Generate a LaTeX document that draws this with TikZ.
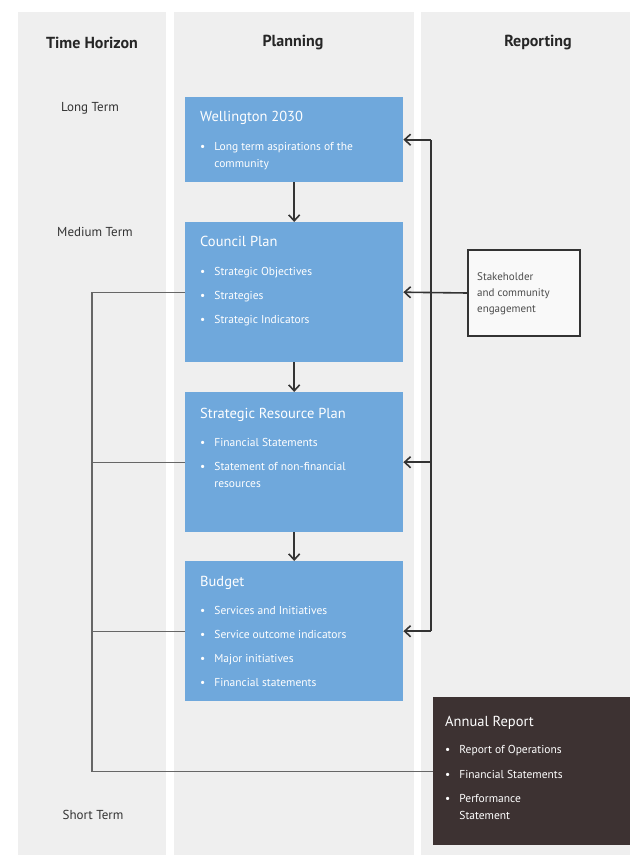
\documentclass[tikz,border=0pt]{standalone}
\usepackage{fontspec}
\setmainfont{PT Sans}
\usepackage{array}
\usetikzlibrary{arrows.meta}
\definecolor{colbg}{HTML}{EFEFEF}
\definecolor{planblue}{HTML}{6FA8DC}
\definecolor{reportbrown}{HTML}{3D3232}
\definecolor{darkline}{HTML}{333333}
\definecolor{grayline}{HTML}{666666}
\newcommand{\boxtitle}{\fontsize{14.5}{17}\selectfont}
\newcommand{\bul}{\textbullet}
\begin{document}
\begin{tikzpicture}[x=1pt,y=-1pt,
  header/.style={font=\bfseries\fontsize{16}{19}\selectfont, text=black!85},
  term/.style={font=\fontsize{13}{15}\selectfont, text=black!80},
  planbox/.style={fill=planblue, draw=none, minimum width=218pt, anchor=north west, inner sep=0pt},
  annualbox/.style={fill=reportbrown, draw=none, minimum width=197pt, minimum height=148pt, anchor=north west, inner sep=0pt},
  boxtext/.style={anchor=north west, inner sep=0pt, text=white, font=\fontsize{11.5}{17}\selectfont, align=left},
  stakebox/.style={draw=darkline, line width=1.4pt, fill=white!60!colbg, minimum width=112pt, minimum height=86pt, inner sep=0pt},
  staketext/.style={anchor=north west, inner sep=0pt, text=black!70, font=\fontsize{11}{16}\selectfont, align=left},
  arr/.style={draw=darkline, line width=1.6pt, -{Straight Barb[length=6pt,width=11pt]}},
  fbline/.style={draw=darkline, line width=1.5pt},
  bracket/.style={draw=grayline, line width=1.4pt}
]
\useasboundingbox (0,0) rectangle (630,859);
\fill[white] (0,0) rectangle (630,859);
% columns
\fill[colbg] (18,12) rectangle (166,855);
\fill[colbg] (174,12) rectangle (414,855);
\fill[colbg] (421,12) rectangle (630,855);
% headers
\node[header] (hTime) at (92,43) {Time Horizon};
\node[header] (hPlan) at (293,43) {Planning};
\node[header] (hRep) at (538,43) {Reporting};
% terms
\node[term] (tLong) at (90,108) {Long Term};
\node[term] (tMed) at (95,232) {Medium Term};
\node[term] (tShort) at (93,815) {Short Term};
% planning boxes
\node[planbox, minimum height=85pt] (w2030) at (185,97) {};
\node[planbox, minimum height=140pt] (council) at (185,222) {};
\node[planbox, minimum height=140pt] (srp) at (185,392) {};
\node[planbox, minimum height=140pt] (budget) at (185,561) {};
\node[annualbox] (annual) at (433,697) {};
% box texts
\node[boxtext] (w2030t) at (200,109) {%
  \begin{tabular}{@{}l@{\hspace{9pt}}>{\raggedright\arraybackslash}p{175pt}@{}}
  \multicolumn{2}{@{}l}{\boxtitle Wellington 2030}\\[12pt]
  \bul & Long term aspirations of the\newline community
  \end{tabular}};
\node[boxtext] (councilt) at (200,234) {%
  \begin{tabular}{@{}l@{\hspace{9pt}}>{\raggedright\arraybackslash}p{175pt}@{}}
  \multicolumn{2}{@{}l}{\boxtitle Council Plan}\\[12pt]
  \bul & Strategic Objectives\\[7pt]
  \bul & Strategies\\[7pt]
  \bul & Strategic Indicators
  \end{tabular}};
\node[boxtext] (srpt) at (200,406) {%
  \begin{tabular}{@{}l@{\hspace{9pt}}>{\raggedright\arraybackslash}p{175pt}@{}}
  \multicolumn{2}{@{}l}{\boxtitle Strategic Resource Plan}\\[11pt]
  \bul & Financial Statements\\[7pt]
  \bul & Statement of non-financial\newline resources
  \end{tabular}};
\node[boxtext] (budgett) at (200,574) {%
  \begin{tabular}{@{}l@{\hspace{9pt}}>{\raggedright\arraybackslash}p{175pt}@{}}
  \multicolumn{2}{@{}l}{\boxtitle Budget}\\[11pt]
  \bul & Services and Initiatives\\[7pt]
  \bul & Service outcome indicators\\[7pt]
  \bul & Major initiatives\\[7pt]
  \bul & Financial statements
  \end{tabular}};
\node[boxtext] (annualt) at (445,714) {%
  \begin{tabular}{@{}l@{\hspace{9pt}}>{\raggedright\arraybackslash}p{160pt}@{}}
  \multicolumn{2}{@{}l}{\boxtitle Annual Report}\\[10pt]
  \bul & Report of Operations\\[8pt]
  \bul & Financial Statements\\[7pt]
  \bul & Performance\newline Statement
  \end{tabular}};
% stakeholder
\node[stakebox] (stake) at (524,293) {};
\node[staketext] (staket) at (477,272) {Stakeholder\\and community\\engagement};
% down arrows
\draw[arr] (w2030.south) -- (council.north);
\draw[arr] (council.south) -- (srp.north);
\draw[arr] (srp.south) -- (budget.north);
% feedback line on the right
\coordinate (fbx) at (431,0);
\draw[fbline] (fbx |- budget.east) -- (fbx |- w2030.east);
\draw[arr] (fbx |- w2030.east) -- (w2030.east);
\draw[arr] (fbx |- budget.east) -- (budget.east);
\draw[arr] (fbx |- srp.east) -- (srp.east);
\draw[arr] (stake.west) -- (council.east);
% left bracket
\coordinate (lbx) at (92,0);
\draw[bracket] (council.west) -- (lbx |- council.west) -- (lbx |- annual.west) -- (annual.west);
\draw[bracket] (srp.west) -- (lbx |- srp.west);
\draw[bracket] (budget.west) -- (lbx |- budget.west);
\end{tikzpicture}
\end{document}
